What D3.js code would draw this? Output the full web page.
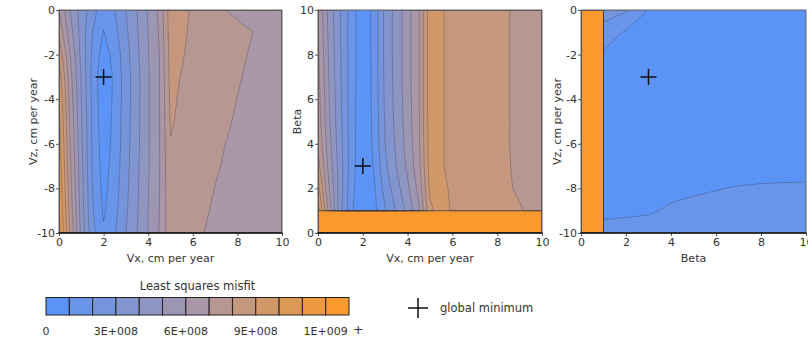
<!DOCTYPE html>
<html>
<head>
<meta charset="utf-8">
<script src="https://cdn.jsdelivr.net/npm/d3@7"></script>
<style>
  body { margin: 0; background: #fff; }
  svg { display: block; }
  text { font-family: "DejaVu Sans", "Liberation Sans", Arial, sans-serif; fill: #333; }
</style>
</head>
<body>
<svg id="chart" width="808" height="338"></svg>
<script>
// Misfit values are in units of 1E+008.
const levels = [0, 1, 2, 3, 4, 5, 6, 7, 8, 9, 10, 11, 12];
const legendTicks = [0, 3, 6, 9, 12];
const legendTickLabels = ["0", "3E+008", "6E+008", "9E+008", "1E+009"];
const axisTicks = [0, 2, 4, 6, 8, 10];
const vzTicks = [0, -2, -4, -6, -8, -10];

// Grid coordinates (a repeated coordinate marks the edge of the off-scale zone)
const vxCols = [0, 0.5, 1, 1.5, 2, 2.5, 3, 3.5, 4, 4.5, 5, 5.5, 6, 6.5, 7, 7.5, 8, 8.5, 9, 9.5, 10];
const vzRows = [0, -1, -2, -3, -4, -5, -6, -7, -8, -9, -10];
const betaRows = [10, 9, 8, 7, 6, 5, 4, 3, 2, 1, 1, 0];
const betaCols = [0, 1, 1, 2, 3, 4, 5, 6, 7, 8, 9, 10];

// Misfit over Vx (columns) and Vz (rows)
const misfitVxVz = [
  [7.0, 5.0, 3.6, 2.4, 1.4, 2.0, 3.0, 4.0, 5.1, 6.2, 8.6, 8.3, 7.85, 7.5, 7.25, 7.0, 6.85, 6.75, 6.65, 6.6, 6.55],
  [7.8, 5.4, 3.6, 2.0, 0.95, 1.7, 2.8, 3.9, 5.0, 6.1, 8.5, 8.2, 7.8, 7.55, 7.4, 7.3, 7.18, 7.05, 6.92, 6.8, 6.7],
  [8.8, 6.0, 3.7, 1.8, 0.5, 1.4, 2.6, 3.8, 4.95, 6.0, 8.4, 8.1, 7.7, 7.5, 7.35, 7.25, 7.12, 6.98, 6.86, 6.76, 6.66],
  [9.6, 6.4, 3.9, 1.7, 0.2, 1.2, 2.5, 3.7, 4.9, 5.95, 8.3, 7.95, 7.6, 7.42, 7.3, 7.2, 7.06, 6.92, 6.8, 6.7, 6.6],
  [10.0, 6.6, 4.0, 1.75, 0.25, 1.25, 2.5, 3.7, 4.9, 5.95, 8.2, 7.85, 7.55, 7.38, 7.25, 7.12, 6.99, 6.87, 6.76, 6.66, 6.57],
  [10.3, 6.8, 4.1, 1.8, 0.35, 1.3, 2.55, 3.72, 4.9, 5.95, 8.1, 7.8, 7.5, 7.33, 7.18, 7.06, 6.94, 6.83, 6.73, 6.64, 6.55],
  [10.5, 7.0, 4.2, 1.85, 0.45, 1.35, 2.6, 3.75, 4.9, 5.95, 7.95, 7.7, 7.45, 7.28, 7.12, 6.99, 6.88, 6.79, 6.7, 6.62, 6.54],
  [10.7, 7.2, 4.3, 1.9, 0.55, 1.45, 2.65, 3.8, 4.92, 5.95, 7.85, 7.62, 7.38, 7.2, 7.06, 6.94, 6.84, 6.76, 6.68, 6.6, 6.52],
  [10.9, 7.4, 4.4, 2.0, 0.7, 1.55, 2.75, 3.85, 4.95, 5.95, 7.8, 7.55, 7.3, 7.13, 6.99, 6.89, 6.8, 6.72, 6.65, 6.58, 6.5],
  [11.1, 7.6, 4.5, 2.1, 0.85, 1.7, 2.85, 3.9, 5.0, 6.0, 7.75, 7.48, 7.22, 7.06, 6.94, 6.85, 6.77, 6.7, 6.63, 6.56, 6.5],
  [11.4, 7.9, 4.7, 2.3, 1.15, 1.9, 3.0, 4.0, 5.0, 6.05, 7.7, 7.4, 7.15, 7.0, 6.9, 6.82, 6.75, 6.68, 6.62, 6.56, 6.5]
];

// Misfit over Vx (columns) and Beta (rows); values of 13 are off-scale
const misfitVxBeta = [
  [7.0, 4.6, 3.0, 1.5, 0.3, 1.3, 3.3, 4.4, 5.6, 6.9, 9.6, 9.1, 8.7, 8.5, 8.4, 8.3, 8.15, 8.02, 7.85, 7.7, 7.6],
  [7.1, 4.7, 3.0, 1.45, 0.28, 1.3, 3.3, 4.4, 5.6, 6.9, 9.6, 9.1, 8.7, 8.5, 8.4, 8.3, 8.15, 8.02, 7.85, 7.7, 7.6],
  [7.2, 4.8, 3.05, 1.45, 0.26, 1.3, 3.3, 4.4, 5.6, 6.9, 9.6, 9.1, 8.7, 8.5, 8.4, 8.3, 8.15, 8.02, 7.85, 7.7, 7.6],
  [7.3, 4.9, 3.1, 1.45, 0.24, 1.28, 3.25, 4.4, 5.6, 6.9, 9.6, 9.1, 8.7, 8.5, 8.4, 8.3, 8.15, 8.02, 7.85, 7.7, 7.6],
  [7.45, 5.0, 3.15, 1.45, 0.22, 1.26, 3.2, 4.35, 5.55, 6.9, 9.6, 9.1, 8.7, 8.5, 8.4, 8.3, 8.15, 8.02, 7.85, 7.7, 7.6],
  [7.6, 5.1, 3.2, 1.45, 0.2, 1.24, 3.1, 4.3, 5.5, 6.85, 9.55, 9.1, 8.7, 8.5, 8.4, 8.3, 8.15, 8.02, 7.85, 7.7, 7.6],
  [7.9, 5.3, 3.3, 1.45, 0.16, 1.2, 3.0, 4.2, 5.4, 6.8, 9.5, 9.1, 8.7, 8.5, 8.4, 8.3, 8.15, 8.02, 7.85, 7.7, 7.6],
  [8.4, 5.6, 3.4, 1.45, 0.1, 1.1, 2.8, 4.0, 5.2, 6.7, 9.4, 9.1, 8.7, 8.5, 8.4, 8.3, 8.15, 8.03, 7.88, 7.72, 7.62],
  [9.4, 6.0, 3.4, 1.3, 0.2, 0.85, 2.4, 3.6, 4.8, 6.3, 9.2, 9.3, 8.8, 8.55, 8.45, 8.35, 8.2, 8.05, 7.92, 7.78, 7.66],
  [10.5, 6.5, 3.3, 1.1, 0.3, 0.7, 1.9, 3.1, 4.3, 5.8, 8.8, 9.4, 8.9, 8.6, 8.5, 8.4, 8.3, 8.2, 8.05, 7.9, 7.8],
  [13, 13, 13, 13, 13, 13, 13, 13, 13, 13, 13, 13, 13, 13, 13, 13, 13, 13, 13, 13, 13],
  [13, 13, 13, 13, 13, 13, 13, 13, 13, 13, 13, 13, 13, 13, 13, 13, 13, 13, 13, 13, 13]
];

// Misfit over Beta (columns) and Vz (rows); values of 13 are off-scale
const misfitBetaVz = [
  [13, 13, 2.6, 2.1, 0.95, 0.8, 0.75, 0.75, 0.78, 0.8, 0.82, 0.85],
  [13, 13, 1.5, 0.9, 0.7, 0.6, 0.6, 0.62, 0.65, 0.68, 0.7, 0.72],
  [13, 13, 0.9, 0.6, 0.45, 0.45, 0.5, 0.55, 0.6, 0.62, 0.64, 0.66],
  [13, 13, 0.7, 0.35, 0.1, 0.3, 0.4, 0.5, 0.55, 0.6, 0.62, 0.64],
  [13, 13, 0.6, 0.35, 0.25, 0.3, 0.4, 0.5, 0.55, 0.58, 0.6, 0.62],
  [13, 13, 0.55, 0.4, 0.35, 0.35, 0.42, 0.5, 0.55, 0.58, 0.6, 0.62],
  [13, 13, 0.55, 0.45, 0.42, 0.45, 0.5, 0.58, 0.62, 0.65, 0.68, 0.7],
  [13, 13, 0.55, 0.5, 0.5, 0.55, 0.6, 0.7, 0.75, 0.78, 0.8, 0.8],
  [13, 13, 0.7, 0.68, 0.7, 0.8, 0.88, 0.98, 1.03, 1.06, 1.07, 1.08],
  [13, 13, 0.85, 0.85, 0.9, 1.11, 1.22, 1.18, 1.2, 1.22, 1.23, 1.24],
  [13, 13, 1.22, 1.35, 1.4, 1.4, 1.45, 1.4, 1.4, 1.42, 1.43, 1.44]
];

// Global minimum of each panel
const minVxVz = [2, -3];
const minVxBeta = [2, 3];
const minBetaVz = [3, -3];

// Blue -> grey-mauve -> orange ramp across the 13 bands
const ramp = d3.scaleLinear()
  .domain([0, 0.5, 1])
  .range(["#5b93f6", "#a996a6", "#f9992e"])
  .interpolate(d3.interpolateRgb);
const bandColor = i => ramp(i / (levels.length - 1));

const svg = d3.select("#chart");
const plotTop = 10, plotBottom = 233;

const panels = [
  { left: 59, right: 282, cols: vxCols, rows: vzRows, grid: misfitVxVz, xDomain: [0, 10], yDomain: [-10, 0],
    yTicks: vzTicks, xTitle: "Vx, cm per year", yTitle: "Vz, cm per year", yTitleX: 33, minimum: minVxVz },
  { left: 318, right: 542, cols: vxCols, rows: betaRows, grid: misfitVxBeta, xDomain: [0, 10], yDomain: [0, 10],
    yTicks: axisTicks, xTitle: "Vx, cm per year", yTitle: "Beta", yTitleX: 297, minimum: minVxBeta },
  { left: 581, right: 806, cols: betaCols, rows: vzRows, grid: misfitBetaVz, xDomain: [0, 10], yDomain: [-10, 0],
    yTicks: vzTicks, xTitle: "Beta", yTitle: "Vz, cm per year", yTitleX: 557, minimum: minBetaVz }
];

const defs = svg.append("defs");

panels.forEach((p, k) => {
  const x = d3.scaleLinear().domain(p.xDomain).range([p.left, p.right]);
  const y = d3.scaleLinear().domain(p.yDomain).range([plotBottom, plotTop]);
  const n = p.cols.length, m = p.rows.length;
  // grid index -> data coordinate (piecewise, allows uneven spacing)
  const colAt = d3.scaleLinear().domain(d3.range(n)).range(p.cols);
  const rowAt = d3.scaleLinear().domain(d3.range(m)).range(p.rows);
  const clamp = (v, hi) => Math.max(0, Math.min(hi, v));
  const projection = d3.geoTransform({
    point(cx, cy) {
      this.stream.point(x(colAt(clamp(cx - 0.5, n - 1))), y(rowAt(clamp(cy - 0.5, m - 1))));
    }
  });
  const path = d3.geoPath(projection);
  const bands = d3.contours().size([n, m]).thresholds(levels)(p.grid.flat());

  defs.append("clipPath").attr("id", "clip" + k)
    .append("rect").attr("x", p.left).attr("y", plotTop)
    .attr("width", p.right - p.left).attr("height", plotBottom - plotTop);

  const g = svg.append("g").attr("clip-path", `url(#clip${k})`);
  g.selectAll("path.band").data(bands).join("path")
    .attr("class", "band")
    .attr("d", path)
    .attr("fill", (d, i) => bandColor(i))
    .attr("fill-rule", "evenodd");
  g.selectAll("path.line").data(bands.slice(1)).join("path")
    .attr("class", "line")
    .attr("d", path)
    .attr("fill", "none")
    .attr("stroke", "#3a3a4a")
    .attr("stroke-opacity", 0.45)
    .attr("stroke-width", 0.7);

  // frame
  svg.append("rect").attr("x", p.left).attr("y", plotTop)
    .attr("width", p.right - p.left).attr("height", plotBottom - plotTop)
    .attr("fill", "none").attr("stroke", "#666").attr("stroke-width", 1);

  // axes
  const fmt = d => String(d);
  const gx = svg.append("g").attr("transform", `translate(0,${plotBottom})`)
    .call(d3.axisBottom(x).tickValues(axisTicks).tickSize(3).tickPadding(2).tickFormat(fmt));
  const gy = svg.append("g").attr("transform", `translate(${p.left},0)`)
    .call(d3.axisLeft(y).tickValues(p.yTicks).tickSize(3).tickPadding(1).tickFormat(fmt));
  [gx, gy].forEach(ax => {
    ax.select(".domain").remove();
    ax.selectAll(".tick line").attr("stroke", "#555");
    ax.selectAll(".tick text").attr("fill", "#333").style("font-size", "11px")
      .style("font-family", '"DejaVu Sans", "Liberation Sans", Arial, sans-serif');
  });
  svg.append("line").attr("x1", p.left - 0.5).attr("x2", p.right + 0.5)
    .attr("y1", plotBottom).attr("y2", plotBottom)
    .attr("stroke", "#111").attr("stroke-width", 1.6);

  // titles
  svg.append("text").attr("x", (p.left + p.right) / 2).attr("y", 262)
    .attr("text-anchor", "middle").style("font-size", "11px").text(p.xTitle);
  svg.append("text")
    .attr("transform", `translate(${p.yTitleX},${(plotTop + plotBottom) / 2}) rotate(-90)`)
    .attr("text-anchor", "middle").attr("dy", "0.35em").style("font-size", "11px").text(p.yTitle);

  // global minimum marker
  const mx = x(p.minimum[0]), my = y(p.minimum[1]);
  svg.append("path")
    .attr("d", `M${mx - 8},${my}H${mx + 8}M${mx},${my - 8}V${my + 8}`)
    .attr("stroke", "#111").attr("stroke-width", 1.5).attr("fill", "none");
});

// Colour legend
const lx = d3.scaleLinear().domain([0, levels.length]).range([46, 349]);
const legend = svg.append("g");
legend.append("text").attr("x", (lx(0) + lx(levels.length)) / 2).attr("y", 290)
  .attr("text-anchor", "middle").style("font-size", "11.5px").text("Least squares misfit");
legend.selectAll("rect").data(levels).join("rect")
  .attr("x", (d, i) => lx(i)).attr("y", 297.5)
  .attr("width", (d, i) => lx(i + 1) - lx(i)).attr("height", 17.5)
  .attr("fill", (d, i) => bandColor(i))
  .attr("stroke", "#222").attr("stroke-width", 1);
legend.selectAll("text.tick").data(legendTicks).join("text")
  .attr("class", "tick")
  .attr("x", d => lx(d)).attr("y", 335)
  .attr("text-anchor", "middle").style("font-size", "11px")
  .text((d, i) => legendTickLabels[i]);
legend.append("text").attr("x", lx(legendTicks[legendTicks.length - 1]) + 27).attr("y", 334)
  .style("font-size", "13px").text("+");

// Marker key
const kx = 418, ky = 308;
svg.append("path").attr("d", `M${kx - 10},${ky}H${kx + 10}M${kx},${ky - 10}V${ky + 10}`)
  .attr("stroke", "#111").attr("stroke-width", 1.5);
svg.append("text").attr("x", 440).attr("y", 312).style("font-size", "11.5px").text("global minimum");
</script>
</body>
</html>
